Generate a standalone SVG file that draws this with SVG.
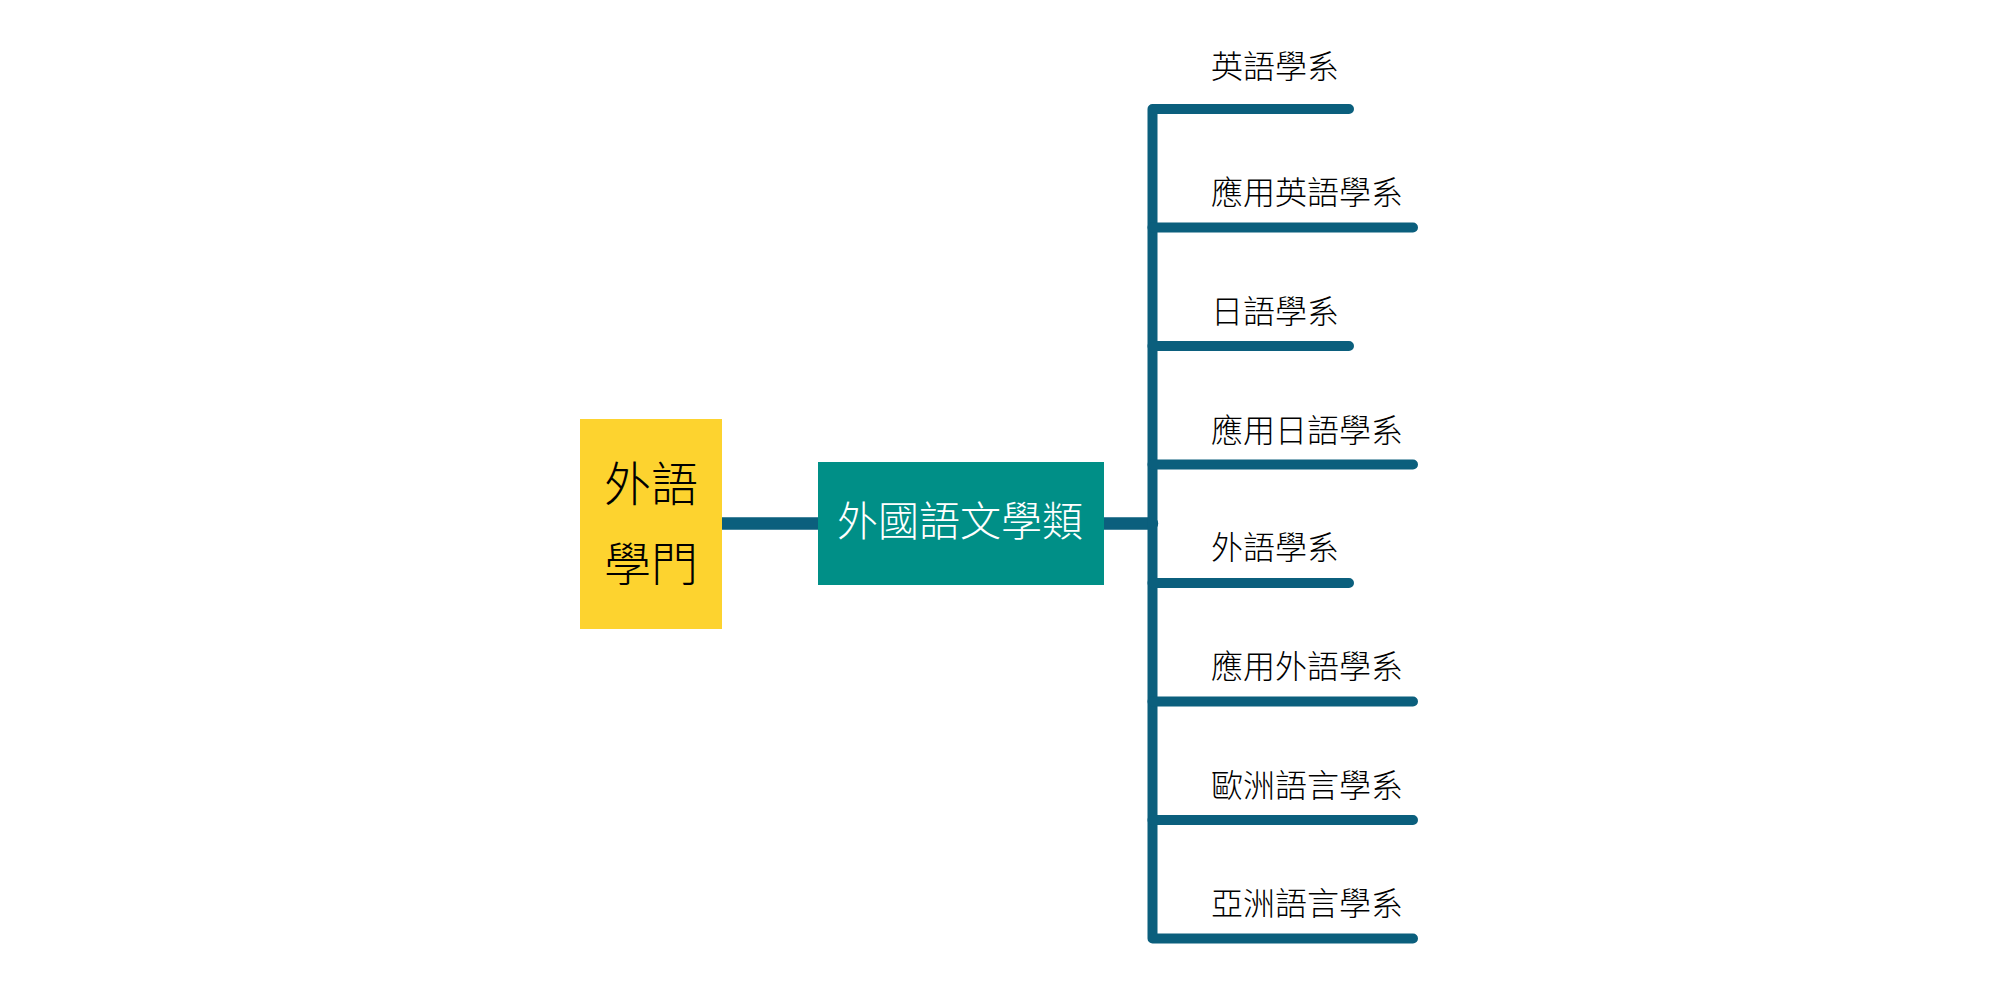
<svg xmlns="http://www.w3.org/2000/svg" width="2000" height="994" viewBox="0 0 2000 994">
<style>
text{font-family:"Noto Sans CJK TC","Noto Sans CJK SC",sans-serif;font-weight:300}
.lbl{font-size:32px;fill:#000}
.conn{stroke:#0B5F7D;fill:none;stroke-linecap:round;stroke-linejoin:round}
</style>
<rect width="2000" height="994" fill="#fff"/>
<g id="connectors">
<path class="conn" stroke-width="12.5" stroke-linecap="butt" d="M722,523.5 H818 M1104,523.5 H1152"/>
<path class="conn" stroke-width="10" d="M1349,109 H1152.5 V938.5 H1413"/>
<path class="conn" stroke-width="10" d="M1152.5,227.5 H1413 M1152.5,346 H1349 M1152.5,464.5 H1413 M1152.5,583 H1349 M1152.5,701.5 H1413 M1152.5,820 H1413"/>
</g>
<g id="root">
<rect x="580" y="419" width="142" height="210" fill="#FDD32F"/>
<text x="651" y="501" text-anchor="middle" font-size="47" fill="#000">外語</text>
<text x="651" y="581" text-anchor="middle" font-size="47" fill="#000">學門</text>
</g>
<g id="category">
<rect x="818" y="462" width="286" height="123" fill="#008F87"/>
<text x="960" y="536" text-anchor="middle" font-size="41" fill="#fff">外國語文學類</text>
</g>
<g id="n1"><text class="lbl" x="1211" y="77.5">英語學系</text></g>
<g id="n2"><text class="lbl" x="1211" y="204">應用英語學系</text></g>
<g id="n3"><text class="lbl" x="1211" y="322.5">日語學系</text></g>
<g id="n4"><text class="lbl" x="1211" y="442">應用日語學系</text></g>
<g id="n5"><text class="lbl" x="1211" y="559">外語學系</text></g>
<g id="n6"><text class="lbl" x="1211" y="678">應用外語學系</text></g>
<g id="n7"><text class="lbl" x="1211" y="796.5">歐洲語言學系</text></g>
<g id="n8"><text class="lbl" x="1211" y="915">亞洲語言學系</text></g>
</svg>
